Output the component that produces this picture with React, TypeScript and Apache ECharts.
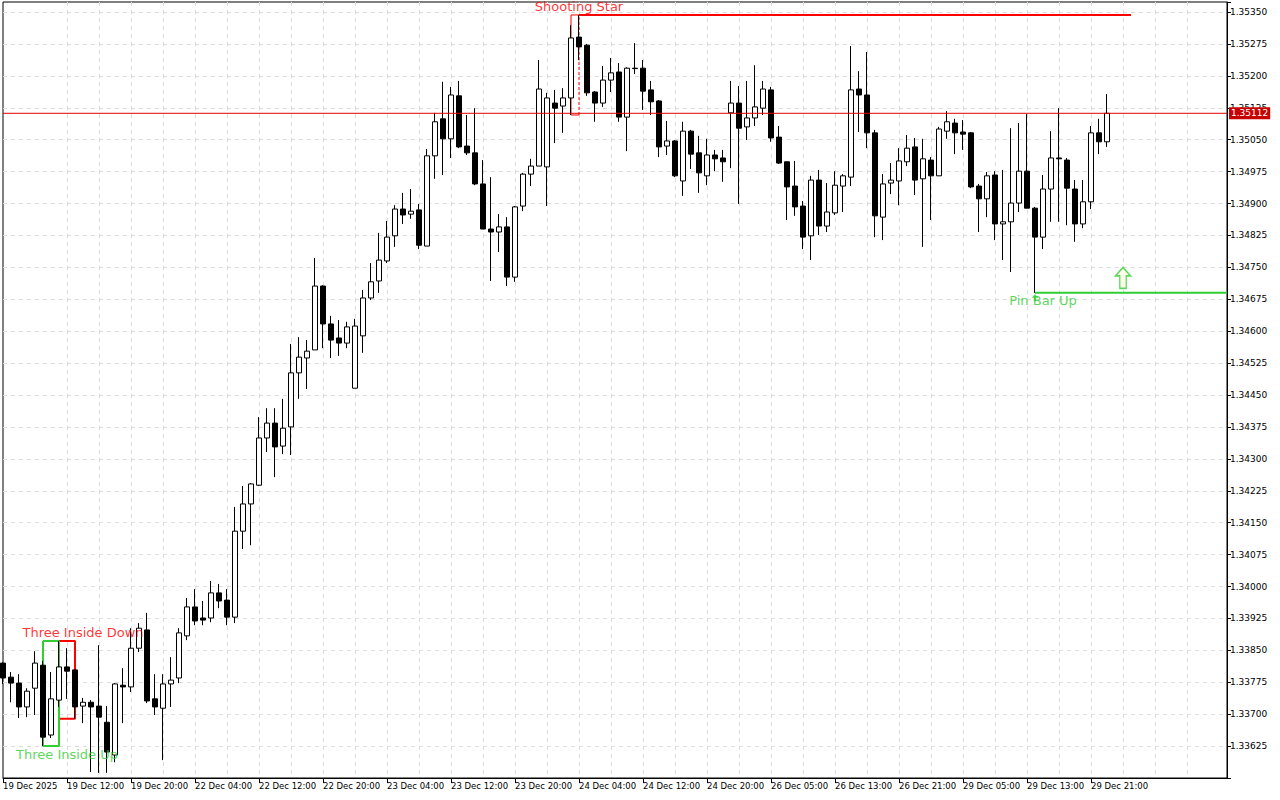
import React, { useEffect, useRef } from "react";
import * as echarts from "echarts";

const BASE = 1.33625;
const TICK_STEP = 0.00075;

const xLabels = [
  "19 Dec 2025", "19 Dec 12:00", "19 Dec 20:00", "22 Dec 04:00", "22 Dec 12:00", "22 Dec 20:00",
  "23 Dec 04:00", "23 Dec 12:00", "23 Dec 20:00", "24 Dec 04:00", "24 Dec 12:00", "24 Dec 20:00",
  "26 Dec 05:00", "26 Dec 13:00", "26 Dec 21:00", "29 Dec 05:00", "29 Dec 13:00", "29 Dec 21:00",
];

const opens = [
  1.33820, 1.33787, 1.33773, 1.33717, 1.33761, 1.33815, 1.33651, 1.33733, 1.33811, 1.33804,
  1.33719, 1.33728, 1.33719, 1.33681, 1.33604, 1.33768, 1.33764, 1.33855, 1.33898, 1.33736,
  1.33714, 1.33771, 1.33785, 1.33884, 1.33952, 1.33926, 1.33926, 1.33985, 1.33968, 1.33928,
  1.34130, 1.34194, 1.34238, 1.34349, 1.34384, 1.34330, 1.34375, 1.34502, 1.34537, 1.34556,
  1.34706, 1.34617, 1.34584, 1.34572, 1.34466, 1.34589, 1.34678, 1.34718, 1.34765, 1.34824,
  1.34887, 1.34875, 1.34885, 1.34800, 1.35012, 1.35099, 1.35052, 1.35153, 1.35035, 1.35019,
  1.34946, 1.34840, 1.34833, 1.34845, 1.34727, 1.34894, 1.34969, 1.34988, 1.34986, 1.35136,
  1.35129, 1.35148, 1.35291, 1.35272, 1.35162, 1.35136, 1.35190, 1.35209, 1.35103, 1.35218,
  1.35218, 1.35167, 1.35141, 1.35035, 1.35047, 1.34953, 1.35070, 1.35019, 1.34965, 1.35014,
  1.35007, 1.35113, 1.35136, 1.35080, 1.35101, 1.35124, 1.35167, 1.35056, 1.34998, 1.34941,
  1.34894, 1.34824, 1.34955, 1.34847, 1.34878, 1.34941, 1.34962, 1.35169, 1.35155, 1.35066,
  1.34868, 1.34948, 1.34953, 1.34998, 1.35033, 1.34958, 1.35002, 1.34965, 1.35070, 1.35089,
  1.35068, 1.35066, 1.34941, 1.34911, 1.34967, 1.34852, 1.34857, 1.34901, 1.34976, 1.34889,
  1.34821, 1.34934, 1.35007, 1.35002, 1.34934, 1.34852, 1.34904, 1.35066, 1.35045,
];

const highs = [
  1.33822, 1.33799, 1.33794, 1.33761, 1.33848, 1.33825, 1.33799, 1.33872, 1.33855, 1.33806,
  1.33738, 1.33733, 1.33862, 1.33719, 1.33773, 1.33808, 1.33902, 1.33914, 1.33938, 1.33794,
  1.33794, 1.33834, 1.33902, 1.33973, 1.33994, 1.33966, 1.34013, 1.34006, 1.33994, 1.34187,
  1.34236, 1.34243, 1.34398, 1.34419, 1.34419, 1.34441, 1.34570, 1.34586, 1.34579, 1.34772,
  1.34708, 1.34636, 1.34626, 1.34622, 1.34629, 1.34697, 1.34760, 1.34831, 1.34859, 1.34896,
  1.34925, 1.34934, 1.34899, 1.35028, 1.35113, 1.35186, 1.35174, 1.35188, 1.35108, 1.35124,
  1.35002, 1.34962, 1.34875, 1.34868, 1.34894, 1.34972, 1.35005, 1.35237, 1.35160, 1.35167,
  1.35171, 1.35319, 1.35343, 1.35275, 1.35164, 1.35223, 1.35242, 1.35230, 1.35220, 1.35277,
  1.35237, 1.35188, 1.35143, 1.35094, 1.35049, 1.35092, 1.35073, 1.35059, 1.35052, 1.35026,
  1.35026, 1.35188, 1.35176, 1.35188, 1.35225, 1.35188, 1.35174, 1.35082, 1.34998, 1.35000,
  1.34906, 1.34965, 1.34979, 1.34948, 1.34976, 1.34969, 1.35270, 1.35211, 1.35256, 1.35073,
  1.34969, 1.34995, 1.35030, 1.35061, 1.35054, 1.35052, 1.35009, 1.35080, 1.35117, 1.35099,
  1.35096, 1.35068, 1.34946, 1.34974, 1.34976, 1.34979, 1.35077, 1.35089, 1.35110, 1.34892,
  1.34967, 1.35070, 1.35124, 1.35007, 1.34955, 1.34955, 1.35082, 1.35099, 1.35157,
];

const lows = [
  1.33771, 1.33728, 1.33691, 1.33693, 1.33698, 1.33625, 1.33644, 1.33717, 1.33736, 1.33689,
  1.33679, 1.33564, 1.33562, 1.33562, 1.33587, 1.33679, 1.33752, 1.33846, 1.33726, 1.33698,
  1.33592, 1.33717, 1.33773, 1.33874, 1.33909, 1.33909, 1.33916, 1.33949, 1.33909, 1.33914,
  1.34088, 1.34097, 1.34236, 1.34316, 1.34257, 1.34311, 1.34309, 1.34441, 1.34464, 1.34556,
  1.34560, 1.34537, 1.34542, 1.34560, 1.34466, 1.34549, 1.34673, 1.34690, 1.34760, 1.34798,
  1.34852, 1.34864, 1.34793, 1.34800, 1.34958, 1.34967, 1.35007, 1.35030, 1.35014, 1.34943,
  1.34840, 1.34718, 1.34786, 1.34706, 1.34716, 1.34882, 1.34941, 1.34988, 1.34894, 1.35042,
  1.35066, 1.35108, 1.35237, 1.35153, 1.35092, 1.35127, 1.35162, 1.35092, 1.35023, 1.35204,
  1.35120, 1.35108, 1.35009, 1.35014, 1.34962, 1.34918, 1.34981, 1.34925, 1.34943, 1.34976,
  1.34951, 1.34983, 1.34899, 1.35049, 1.35082, 1.35108, 1.35045, 1.34993, 1.34861, 1.34871,
  1.34793, 1.34767, 1.34826, 1.34833, 1.34873, 1.34880, 1.34941, 1.35068, 1.35030, 1.34821,
  1.34814, 1.34922, 1.34896, 1.34988, 1.34920, 1.34798, 1.34861, 1.34965, 1.35052, 1.35016,
  1.35026, 1.34936, 1.34833, 1.34868, 1.34814, 1.34767, 1.34739, 1.34880, 1.34889, 1.34690,
  1.34793, 1.34857, 1.34857, 1.34849, 1.34810, 1.34842, 1.34887, 1.35016, 1.35033,
];

const closes = [
  1.33785, 1.33773, 1.33717, 1.33754, 1.33820, 1.33646, 1.33736, 1.33811, 1.33801, 1.33717,
  1.33728, 1.33717, 1.33693, 1.33611, 1.33771, 1.33764, 1.33855, 1.33902, 1.33731, 1.33717,
  1.33771, 1.33780, 1.33891, 1.33952, 1.33919, 1.33921, 1.33985, 1.33966, 1.33928, 1.34130,
  1.34194, 1.34241, 1.34349, 1.34384, 1.34328, 1.34372, 1.34502, 1.34539, 1.34553, 1.34706,
  1.34617, 1.34579, 1.34572, 1.34610, 1.34612, 1.34678, 1.34716, 1.34767, 1.34821, 1.34887,
  1.34873, 1.34882, 1.34802, 1.35012, 1.35092, 1.35052, 1.35155, 1.35033, 1.35019, 1.34946,
  1.34840, 1.34833, 1.34845, 1.34727, 1.34892, 1.34969, 1.34988, 1.35169, 1.35148, 1.35124,
  1.35148, 1.35289, 1.35268, 1.35160, 1.35136, 1.35190, 1.35207, 1.35103, 1.35218, 1.35217,
  1.35164, 1.35139, 1.35033, 1.35047, 1.34965, 1.35070, 1.35016, 1.34972, 1.35014, 1.35005,
  1.34998, 1.35136, 1.35077, 1.35101, 1.35127, 1.35169, 1.35054, 1.34995, 1.34939, 1.34892,
  1.34821, 1.34955, 1.34847, 1.34880, 1.34943, 1.34965, 1.35167, 1.35155, 1.35066, 1.34871,
  1.34946, 1.34955, 1.35000, 1.35030, 1.34955, 1.35005, 1.34965, 1.35075, 1.35092, 1.35066,
  1.35063, 1.34939, 1.34911, 1.34965, 1.34852, 1.34857, 1.34901, 1.34976, 1.34889, 1.34821,
  1.34934, 1.35007, 1.35005, 1.34936, 1.34852, 1.34904, 1.35066, 1.35045, 1.35112,
];

// pattern definitions (candle indices)
const threeInsideUp = [5, 7];
const threeInsideDown = [7, 9];
const shootingStar = [71, 72];
const pinBarUp = 129;

// text annotations: [text, x index, price, colour]
const annotations: [string, number, number, string][] = [
  ["Three Inside Down", 10.4, 1.33891, "#ff0000"],
  ["Three Inside Up", 8.25, 1.33606, "#32cd32"],
  ["Shooting Star", 72.25, 1.35362, "#ff0000"],
  ["Pin Bar Up", 130.4, 1.34671, "#32cd32"],
];
const signalArrow: [number, number] = [140, 1.34725];
const resistanceEnd = 140.6;

const SLOTS = 154;
const GREEN = "#32cd32";
const RED = "#ff0000";
const FONT = "DejaVu Sans";

const toV = (p: number) => (p - BASE) * 1e5;

export default function App() {
  const ref = useRef<HTMLDivElement>(null);

  useEffect(() => {
    document.body.style.margin = "0";
    const chart = echarts.init(ref.current!, undefined, { renderer: "svg" });
    const cats = Array.from({ length: SLOTS }, (_, i) => String(i));
    const lastLabelIdx = (xLabels.length - 1) * 8;

    const candles = opens.map((o, i) => [toV(o), toV(closes[i]), toV(lows[i]), toV(highs[i])]);

    const rangeHi = (a: number, b: number) => Math.max(...highs.slice(a, b + 1));
    const rangeLo = (a: number, b: number) => Math.min(...lows.slice(a, b + 1));
    const box = (a: number, b: number) => {
      const hi = toV(rangeHi(a, b));
      const lo = toV(rangeLo(a, b));
      return [[a, hi], [b, hi], [b, lo], [a, lo], [a, hi]];
    };

    const [s0, s1] = shootingStar;
    const ssHi = toV(rangeHi(s0, s1));
    const ssLo = toV(rangeLo(s0, s1));
    const pinLow = toV(lows[pinBarUp]);
    const lastClose = closes[closes.length - 1];

    const lineBase = {
      type: "line",
      symbol: "none",
      silent: true,
      animation: false,
      z: 1,
    };

    const option: any = {
      animation: false,
      backgroundColor: "#ffffff",
      grid: {
        left: 2,
        right: 53,
        top: 2,
        bottom: 22,
        show: true,
        borderColor: "#000",
        borderWidth: 1,
        backgroundColor: "#ffffff",
      },
      xAxis: {
        type: "category",
        data: cats,
        boundaryGap: false,
        axisLine: { show: true, onZero: false, lineStyle: { color: "#000", width: 1 } },
        axisTick: {
          show: true,
          interval: (i: number) => i % 8 === 0 && i <= lastLabelIdx,
          length: 5,
          lineStyle: { color: "#000" },
        },
        axisLabel: {
          interval: (i: number) => i % 8 === 0 && i <= lastLabelIdx,
          formatter: (_v: string, i: number) => xLabels[i / 8] ?? "",
          align: "left",
          margin: 3,
          fontSize: 8.5,
          fontFamily: FONT,
          color: "#000",
        },
        splitLine: {
          show: true,
          interval: (i: number) => i % 4 === 0 && i > 0,
          showMinLine: false,
          showMaxLine: false,
          lineStyle: { color: "#dcdcdc", type: [4, 4] },
        },
      },
      yAxis: {
        type: "value",
        position: "right",
        min: -75,
        max: 1748.5,
        interval: TICK_STEP * 1e5,
        axisLine: { show: true, lineStyle: { color: "#000" } },
        axisTick: { show: true, length: 4, lineStyle: { color: "#000" } },
        axisLabel: {
          formatter: (v: number) => {
            const k = v / 75;
            if (v < 0 || Math.abs(k - Math.round(k)) > 1e-6) return "";
            return (BASE + v / 1e5).toFixed(5);
          },
          margin: 3,
          fontSize: 9,
          fontFamily: FONT,
          color: "#000",
        },
        splitLine: {
          show: true,
          showMinLine: false,
          showMaxLine: false,
          lineStyle: { color: "#dcdcdc", type: [4, 4] },
        },
      },
      series: [
        { ...lineBase, data: box(threeInsideDown[0], threeInsideDown[1]), lineStyle: { color: RED, width: 2 } },
        { ...lineBase, data: box(threeInsideUp[0], threeInsideUp[1]), lineStyle: { color: GREEN, width: 2 } },
        {
          ...lineBase,
          data: [[s1, ssHi], [s0, ssHi], [s0, ssLo], [s1, ssLo]],
          lineStyle: { color: RED, width: 1 },
        },
        {
          ...lineBase,
          data: [[s1, ssLo], [s1, ssHi]],
          lineStyle: { color: RED, width: 1, type: [3, 2] },
        },
        {
          ...lineBase,
          data: [[s1, ssHi], [resistanceEnd, ssHi]],
          lineStyle: { color: RED, width: 2 },
          z: 3,
        },
        {
          ...lineBase,
          data: [[pinBarUp, pinLow], [SLOTS - 1, pinLow]],
          lineStyle: { color: GREEN, width: 2 },
          z: 3,
        },
        {
          type: "candlestick",
          data: candles,
          barWidth: 5,
          clip: true,
          z: 2,
          itemStyle: {
            color: "#ffffff",
            color0: "#000000",
            borderColor: "#000000",
            borderColor0: "#000000",
            borderColorDoji: "#000000",
            borderWidth: 1,
          },
        },
        {
          ...lineBase,
          z: 5,
          clip: false,
          data: [[0, toV(lastClose)], [SLOTS - 1, toV(lastClose)]],
          lineStyle: { color: "#e00000", width: 1, opacity: 1 },
          endLabel: {
            show: true,
            distance: 2,
            formatter: () => lastClose.toFixed(5),
            backgroundColor: "#c80000",
            color: "#ffffff",
            fontSize: 9,
            fontFamily: FONT,
            padding: [2, 2, 1, 2],
          },
        },
        {
          type: "scatter",
          symbolSize: 0,
          silent: true,
          z: 6,
          data: annotations.map(([t, x, p, c]) => ({
            value: [x, toV(p)],
            label: {
              show: true,
              position: "inside",
              formatter: t,
              color: c,
              fontSize: 13,
              fontFamily: FONT,
            },
          })),
        },
        {
          type: "scatter",
          silent: true,
          z: 6,
          symbol: "path://M3,0 L6,3 L4,3 L4,6 L2,6 L2,3 L0,3 Z",
          symbolSize: [7, 7],
          symbolOffset: [0, 5],
          itemStyle: { color: GREEN },
          data: [[pinBarUp, pinLow]],
        },
        {
          type: "scatter",
          silent: true,
          z: 6,
          symbol: "path://M7,0 L14,8 L10,8 L10,20 L4,20 L4,8 L0,8 Z",
          symbolSize: [15, 21],
          itemStyle: { color: "#ffffe6", borderColor: GREEN, borderWidth: 1.5 },
          data: [[signalArrow[0], toV(signalArrow[1])]],
        },
      ],
    };

    chart.setOption(option);
    return () => chart.dispose();
  }, []);

  return <div ref={ref} style={{ width: 1280, height: 800 }} />;
}
